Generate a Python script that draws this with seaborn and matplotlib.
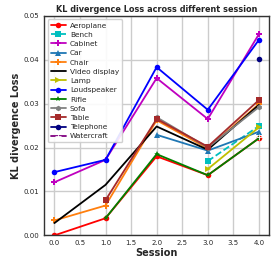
import numpy as np
import pandas as pd
import matplotlib
matplotlib.use("Agg")
import matplotlib.pyplot as plt
import seaborn as sns

sessions = [0, 1, 2, 3, 4]

aeroplane = [0.0000, 0.0039, 0.0180, 0.0137, 0.0221]
bench = [None, None, None, 0.0169, 0.0249]
cabinet = [0.0121, 0.0172, 0.0358, 0.0265, 0.0458]
car = [None, None, 0.0229, 0.0193, 0.0236]
chair = [0.0034, 0.0068, 0.0262, 0.0198, 0.0299]
video_display = [0.0028, 0.0115, 0.0248, 0.0195, 0.0297]
lamp = [None, None, None, 0.0151, 0.0246]
loudspeaker = [0.0144, 0.0172, 0.0383, 0.0286, 0.0445]
rifle = [None, 0.0039, 0.0185, 0.0137, 0.0221]
sofa = [None, None, 0.0269, 0.0200, 0.0292]
table = [None, 0.0080, 0.0265, 0.0202, 0.0308]
telephone = [None, None, None, None, 0.0402]
watercraft = [None, None, None, None, 0.0223]

classes = ["Aeroplane", "Bench", "Cabinet", "Car", "Chair", "Video display", "Lamp",
           "Loudspeaker", "Rifle", "Sofa", "Table", "Telephone", "Watercraft"]
values = [aeroplane, bench, cabinet, car, chair, video_display, lamp,
          loudspeaker, rifle, sofa, table, telephone, watercraft]
colors = ["red", "c", "m", "tab:blue", "tab:orange", "black", "y",
          "blue", "green", "gray", "brown", "navy", "purple"]
markers = ["o", "s", "P", "^", "P", "", ">", "o", "*", "h", "s", "o", "+"]
styles = ["-", "--", "-", "-", "-", "-", "-", "-", "-", "-", "-", "-", "-"]

sns.set_style("whitegrid", {"axes.edgecolor": "0.2", "grid.color": "0.8"})
plt.rcParams["font.family"] = ["DejaVu Sans"]

fig, ax = plt.subplots(figsize=(2.76, 2.63), dpi=100)

for name, vals, col, mk, ls in zip(classes, values, colors, markers, styles):
    df = pd.DataFrame({"Session": sessions, "Loss": vals}).dropna()
    sns.lineplot(data=df, x="Session", y="Loss", ax=ax, color=col, marker=mk if mk else None,
                 markersize=4, markeredgewidth=0.6 if mk == "+" else 0, linestyle=ls,
                 linewidth=1.3, label=name)

ax.set_ylim(0, 0.05)
ax.set_xlim(-0.2, 4.2)
ax.set_xticks(np.arange(0, 4.01, 0.5))
ax.set_yticks([0, 0.01, 0.02, 0.03, 0.04, 0.05])
ax.tick_params(labelsize=5, length=2, pad=1.5)
for s in ax.spines.values():
    s.set_linewidth(1.0)
ax.grid(linewidth=1.0)
ax.set_xlabel("Session", fontsize=7, fontweight="bold", labelpad=1)
ax.set_ylabel("KL divergence Loss", fontsize=7, fontweight="bold", labelpad=2)
ax.set_title("KL divergence Loss across different session", fontsize=5.9,
             fontweight="bold", pad=3)
ax.legend(loc="upper left", fontsize=5.3, frameon=True, framealpha=0.9,
          handlelength=2, labelspacing=0.42, borderpad=0.4, handletextpad=0.6)

plt.subplots_adjust(left=0.16, right=0.975, top=0.94, bottom=0.105)
plt.savefig("out.png", dpi=100)
plt.close()
